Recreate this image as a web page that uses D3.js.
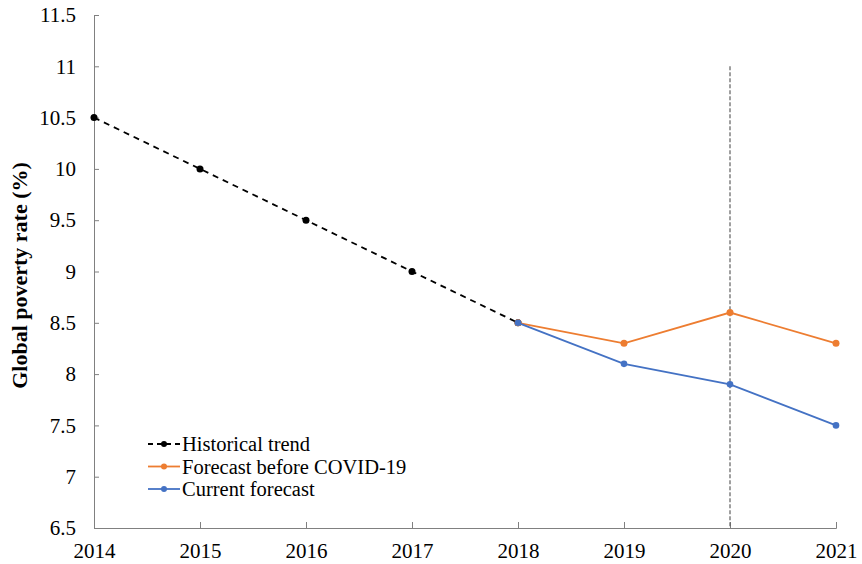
<!DOCTYPE html>
<html>
<head>
<meta charset="utf-8">
<script src="https://cdn.jsdelivr.net/npm/d3@7"></script>
<style>
  body { margin: 0; background: #fff; }
</style>
</head>
<body>
<div id="chart"></div>
<script>
// data
const years = [2014, 2015, 2016, 2017, 2018, 2019, 2020, 2021];
const historical = [[2014, 10.5], [2015, 10.0], [2016, 9.5], [2017, 9.0], [2018, 8.5]];
const beforeCovid = [[2018, 8.5], [2019, 8.3], [2020, 8.6], [2021, 8.3]];
const current = [[2018, 8.5], [2019, 8.1], [2020, 7.9], [2021, 7.5]];
const yTicks = [6.5, 7, 7.5, 8, 8.5, 9, 9.5, 10, 10.5, 11, 11.5];
const markerYear = 2020;

const width = 862, height = 564;
const margin = {left: 94, right: 26, top: 15, bottom: 36};
const font = "Liberation Serif";

const svg = d3.select("#chart").append("svg")
    .attr("width", width)
    .attr("height", height)
    .style("font-family", font);

const x = d3.scaleLinear()
    .domain([2014, 2021])
    .range([margin.left, width - margin.right]);

const y = d3.scaleLinear()
    .domain([6.5, 11.5])
    .range([height - margin.bottom, margin.top]);

// axes, ticks pointing inward
const yAxis = svg.append("g")
    .attr("transform", `translate(${margin.left},0)`)
    .call(d3.axisRight(y).tickValues(yTicks).tickSize(5).tickFormat(d => d3.format("")(d)));
yAxis.select(".domain").attr("stroke", "#808080");
yAxis.selectAll(".tick line").attr("stroke", "#808080");
yAxis.selectAll(".tick text")
    .attr("x", -18).attr("text-anchor", "end")
    .style("font-family", font)
    .attr("font-size", 21).attr("fill", "#000");

const xAxis = svg.append("g")
    .attr("transform", `translate(0,${height - margin.bottom})`)
    .call(d3.axisTop(x).tickValues(years).tickSize(6).tickFormat(d3.format("d")));
xAxis.select(".domain").attr("stroke", "#808080");
xAxis.selectAll(".tick line").attr("stroke", "#808080");
xAxis.selectAll(".tick text")
    .attr("y", 30).attr("font-size", 21).attr("fill", "#000")
    .style("font-family", font);
yAxis.raise();

// y label
svg.append("text")
    .attr("transform", `translate(27,${y(9) + 4}) rotate(-90)`)
    .attr("text-anchor", "middle")
    .attr("font-size", 22)
    .attr("font-weight", "bold")
    .style("font-family", font)
    .text("Global poverty rate (%)");

// vertical dashed line at 2020
svg.append("line")
    .attr("x1", x(markerYear)).attr("x2", x(markerYear))
    .attr("y1", y(11)).attr("y2", y(6.5))
    .attr("stroke", "#606060")
    .attr("stroke-width", 1.2)
    .attr("stroke-dasharray", "4,2");

const line = d3.line().x(d => x(d[0])).y(d => y(d[1]));

const series = [
  {name: "Historical trend", data: historical, color: "#000000", dash: "6,5", r: 3.5},
  {name: "Forecast before COVID-19", data: beforeCovid, color: "#ED7D31", dash: null, r: 3.5},
  {name: "Current forecast", data: current, color: "#4472C4", dash: null, r: 3.3}
];

series.forEach(s => {
  svg.append("path")
      .attr("d", line(s.data))
      .attr("fill", "none")
      .attr("stroke", s.color)
      .attr("stroke-width", 1.8)
      .attr("stroke-dasharray", s.dash);
  svg.selectAll(null)
      .data(s.data)
      .enter().append("circle")
      .attr("cx", d => x(d[0]))
      .attr("cy", d => y(d[1]))
      .attr("r", s.r)
      .attr("fill", s.color);
});

// legend
const legend = svg.append("g").attr("transform", "translate(148,444)");
series.forEach((s, i) => {
  const g = legend.append("g").attr("transform", `translate(0,${i * 22.5})`);
  g.append("line")
      .attr("x1", 0).attr("x2", 32)
      .attr("stroke", s.color)
      .attr("stroke-width", 1.8)
      .attr("stroke-dasharray", s.dash ? "5,4" : null);
  g.append("circle").attr("cx", 16).attr("r", 3).attr("fill", s.color);
  g.append("text")
      .attr("x", 34).attr("y", 7)
      .attr("font-size", 20.5)
      .style("font-family", font)
      .text(s.name);
});
</script>
</body>
</html>
